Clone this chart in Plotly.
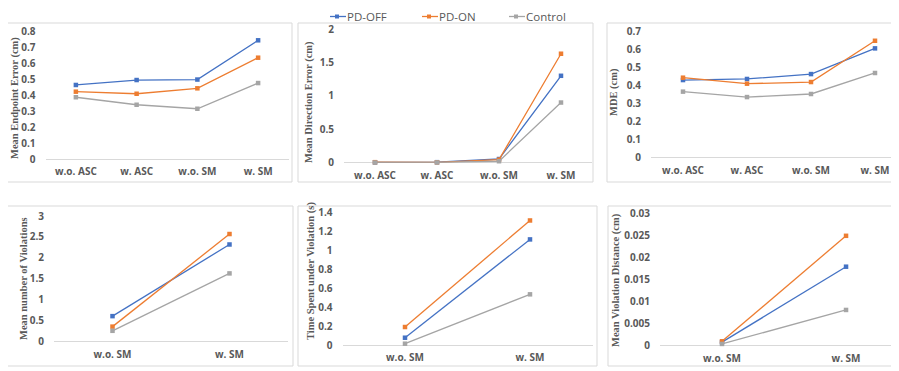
import plotly.graph_objects as go

# Reference canvas size and page offset (browser body margin)
W, H = 899, 371
OFF = 8
FW, FH = W - OFF, H - OFF

cats_asc = ["w.o. ASC", "w. ASC", "w.o. SM", "w. SM"]
cats_sm = ["w.o. SM", "w. SM"]
series_names = ["PD-OFF", "PD-ON", "Control"]
colors = ["#4472C4", "#ED7D31", "#A5A5A5"]

# Panel values
mee_off = [0.466, 0.497, 0.500, 0.746]
mee_on = [0.424, 0.411, 0.445, 0.637]
mee_ctl = [0.389, 0.342, 0.317, 0.478]

mde_dir_off = [0.005, 0.008, 0.055, 1.30]
mde_dir_on = [0.008, 0.006, 0.045, 1.63]
mde_dir_ctl = [0.003, 0.004, 0.022, 0.90]

mde_off = [0.429, 0.435, 0.462, 0.604]
mde_on = [0.442, 0.409, 0.418, 0.646]
mde_ctl = [0.365, 0.335, 0.352, 0.468]

nviol_off = [0.61, 2.32]
nviol_on = [0.36, 2.57]
nviol_ctl = [0.26, 1.63]

tviol_off = [0.080, 1.118]
tviol_on = [0.193, 1.318]
tviol_ctl = [0.017, 0.538]

dviol_off = [0.0008, 0.0179]
dviol_on = [0.0010, 0.0249]
dviol_ctl = [0.0004, 0.0081]

y_titles = ["Mean Endpoint Error (cm)", "Mean Direction Error (cm)", "MDE (cm)",
            "Mean number of Violations", "Time Spent under Violation (s)",
            "Mean Violation Distance (cm)"]

panels = [
    dict(cats=cats_asc, data=[mee_off, mee_on, mee_ctl], yr=[0, 0.8], dt=0.1,
         px=(45.5, 288.5), py=(159.3, 31.7), xr=[-0.5, 3.5],
         box=(7, 23, 292, 182), title_xy=(15, 98)),
    dict(cats=cats_asc, data=[mde_dir_off, mde_dir_on, mde_dir_ctl], yr=[0, 2], dt=0.5,
         px=(344, 592), py=(162.7, 29), xr=[-0.5, 3.5],
         box=(298, 23, 593, 182), title_xy=(309, 102)),
    dict(cats=cats_asc, data=[mde_off, mde_on, mde_ctl], yr=[0, 0.7], dt=0.1,
         px=(651, 899), py=(157.7, 31), xr=[-0.5, 3.375],
         box=(607, 23, 905, 182), title_xy=(614, 92)),
    dict(cats=cats_sm, data=[nviol_off, nviol_on, nviol_ctl], yr=[0, 3], dt=0.5,
         px=(54, 288), py=(341.7, 216), xr=[-0.5, 1.5],
         box=(7, 206, 293, 366), title_xy=(23, 279)),
    dict(cats=cats_sm, data=[tviol_off, tviol_on, tviol_ctl], yr=[0, 1.4], dt=0.2,
         px=(342.5, 592.5), py=(345.3, 212.7), xr=[-0.5, 1.5],
         box=(298, 206, 597, 366), title_xy=(311, 271)),
    dict(cats=cats_sm, data=[dviol_off, dviol_on, dviol_ctl], yr=[0, 0.03], dt=0.005,
         px=(660, 899), py=(345.7, 213.3), xr=[-0.5, 1.427],
         box=(608, 206, 905, 366), title_xy=(616, 280)),
]

# Legend layout (pixel positions of symbol start and text start)
legend_pos = [(330, 347), (422, 439), (509, 526)]
LEGEND_Y = 16.5


def fx(x):
    return (x - OFF) / FW


def fy(y):
    return 1 - (y - OFF) / FH


tick_font = dict(family="Open Sans, Liberation Sans, sans-serif", size=10, color="#595959", weight=700)
title_font = dict(family="Liberation Serif, DejaVu Serif, serif", size=10.5, color="#595959", weight="bold")
legend_font = dict(family="Open Sans, Liberation Sans, sans-serif", size=11.5, color="#595959")

fig = go.Figure()
shapes = []
annotations = []

for i, p in enumerate(panels):
    k = "" if i == 0 else str(i + 1)
    xa, ya = "x" + k, "y" + k
    for j, (name, col) in enumerate(zip(series_names, colors)):
        fig.add_trace(go.Scatter(
            x=list(range(len(p["cats"]))), y=p["data"][j], name=name,
            mode="lines+markers", line=dict(color=col, width=1.3),
            marker=dict(color=col, size=4.5, symbol="square"),
            xaxis=xa, yaxis=ya, showlegend=False, cliponaxis=False,
            hovertemplate="%{y}<extra>" + name + "</extra>",
        ))
    x0, x1 = p["px"]
    yb, yt = p["py"]
    fig.layout["xaxis" + k] = dict(
        domain=[max(fx(x0), 0), min(fx(x1), 1.0)], range=p["xr"], anchor=ya,
        tickvals=list(range(len(p["cats"]))), ticktext=p["cats"],
        showgrid=False, zeroline=False, showline=False, ticks="",
        tickfont=tick_font, fixedrange=True, automargin=False, ticklabelstandoff=5,
    )
    fig.layout["yaxis" + k] = dict(
        domain=[fy(yb), fy(yt)], range=p["yr"], anchor=xa,
        dtick=p["dt"], tick0=0, showgrid=False, showline=False,
        zeroline=True, zerolinecolor="#D9D9D9", zerolinewidth=1,
        ticks="", tickfont=tick_font, fixedrange=True, ticklabelstandoff=9,
        automargin=False,
    )
    bx0, by0, bx1, by1 = p["box"]
    shapes.append(dict(type="rect", xref="paper", yref="paper",
                       x0=fx(bx0), x1=fx(bx1), y0=fy(by1), y1=fy(by0),
                       line=dict(color="#D9D9D9", width=1), layer="below"))
    tx, ty = p["title_xy"]
    annotations.append(dict(text=y_titles[i], xref="paper", yref="paper",
                            x=fx(tx), y=fy(ty), showarrow=False, textangle=-90,
                            font=title_font, xanchor="center", yanchor="middle"))

# Legend (drawn as layout decorations to sit at the very top of the page)
for (sx, tx), name, col in zip(legend_pos, series_names, colors):
    shapes.append(dict(type="line", xref="paper", yref="paper",
                       x0=fx(sx), x1=fx(sx + 16), y0=fy(LEGEND_Y), y1=fy(LEGEND_Y),
                       line=dict(color=col, width=1.3)))
    mx = sx + 7
    shapes.append(dict(type="rect", xref="paper", yref="paper",
                       x0=fx(mx - 2), x1=fx(mx + 2), y0=fy(LEGEND_Y + 2), y1=fy(LEGEND_Y - 2),
                       line=dict(width=0), fillcolor=col))
    annotations.append(dict(text=name, xref="paper", yref="paper",
                            x=fx(tx - 1), y=fy(LEGEND_Y), showarrow=False,
                            xanchor="left", yanchor="middle", font=legend_font,
                            borderpad=0))

fig.update_layout(
    width=FW, height=FH, margin=dict(l=0, r=0, t=0, b=0),
    paper_bgcolor="white", plot_bgcolor="rgba(0,0,0,0)",
    shapes=shapes, annotations=annotations,
    showlegend=False,
)

fig.write_html("out.html")
